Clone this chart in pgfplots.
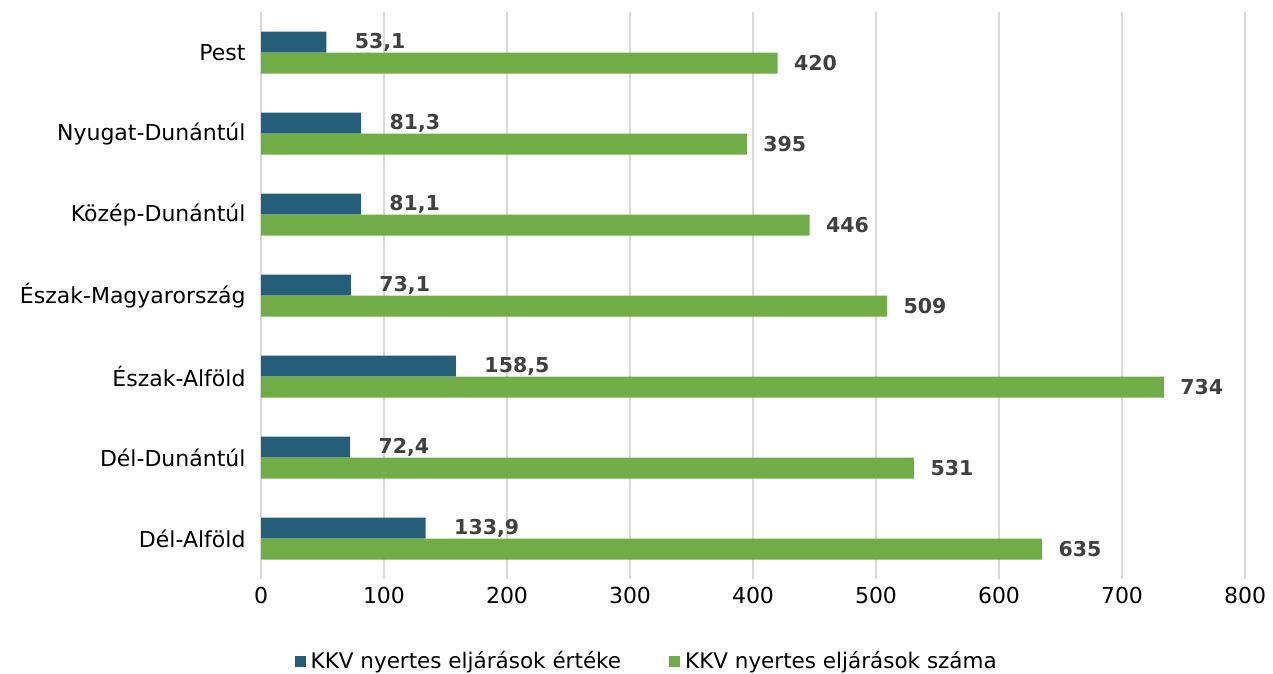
\documentclass[border=0pt]{standalone}
\usepackage{pgfplots}
\pgfplotsset{compat=1.18}
\usepackage{pgfplotstable}
\usepackage{fontspec}
\setmainfont{DejaVu Sans}
\definecolor{cblue}{HTML}{255E79}
\definecolor{cgreen}{HTML}{70AD47}
\definecolor{lab}{HTML}{404040}
\definecolor{gridc}{HTML}{D9D9D9}
\pgfplotstableread{
y val lab
0 53.1 53,1
1 81.3 81,3
2 81.1 81,1
3 73.1 73,1
4 158.5 158,5
5 72.4 72,4
6 133.9 133,9
}\bluedata
\pgfplotstableread{
y val lab
0 420 420
1 395 395
2 446 446
3 509 509
4 734 734
5 531 531
6 635 635
}\greendata
\begin{document}
\begin{tikzpicture}[x=1pt,y=1pt]
\path[use as bounding box] (0,0) rectangle (1273,-673);
\begin{axis}[
 at={(261pt,-579pt)}, anchor=south west,
 scale only axis, width=984pt, height=567pt,
 xbar, bar width=21pt,
 xmin=0, xmax=800, ymin=-0.5, ymax=6.5, y dir=reverse,
 xtick={0,100,...,800}, ytick={0,...,6},
 yticklabels={Pest,Nyugat-Dunántúl,Közép-Dunántúl,Észak-Magyarország,Észak-Alföld,Dél-Dunántúl,Dél-Alföld},
 axis line style={draw=none},
 major tick length=0pt,
 xmajorgrids, grid style={gridc, line width=1.5pt},
 tick label style={font=\fontsize{22}{26}\selectfont, text=black},
 xticklabel style={/pgf/number format/assume math mode=true, yshift=-5pt},
 yticklabel style={xshift=-12pt},
 legend style={draw=none, legend columns=2, at={(0.392,-0.1446)}, anchor=center,
   font=\fontsize{21.5}{25}\selectfont,
   /tikz/every odd column/.append style={column sep=3pt},
   /tikz/every even column/.append style={column sep=46pt}},
 legend image code/.code={\fill[#1] (0pt,-5.5pt) rectangle (11pt,5.5pt);},
]
\addplot[fill=cblue, draw=none, bar shift=10.5pt, nodes near coords, point meta=explicit symbolic,
  every node near coord/.append style={anchor=west, font=\bfseries\fontsize{20.5}{24}\selectfont, text=lab, xshift=25pt}]
  table[x=val, y=y, meta=lab] {\bluedata};
\addlegendentry{KKV nyertes eljárások értéke}
\addplot[fill=cgreen, draw=none, bar shift=-10.5pt, nodes near coords, point meta=explicit symbolic,
  every node near coord/.append style={anchor=west, font=\bfseries\fontsize{20.5}{24}\selectfont, text=lab, xshift=13pt}]
  table[x=val, y=y, meta=lab] {\greendata};
\addlegendentry{KKV nyertes eljárások száma}
\end{axis}
\end{tikzpicture}
\end{document}
